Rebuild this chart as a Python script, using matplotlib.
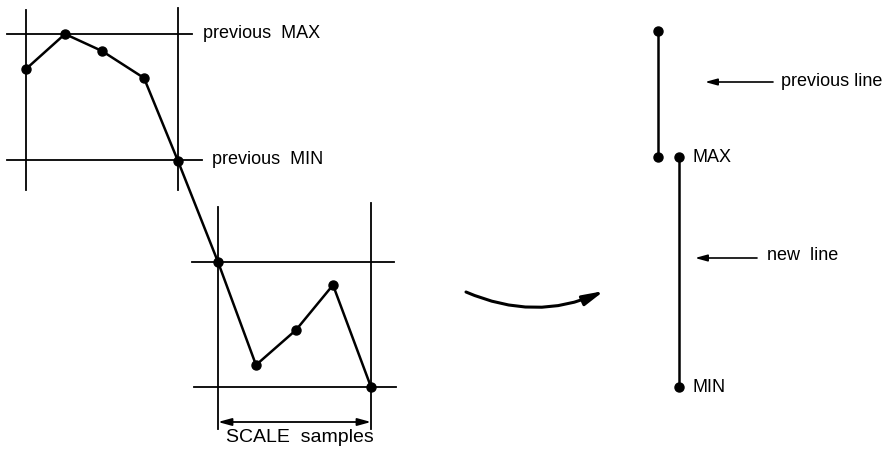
import matplotlib.pyplot as plt
import numpy as np
from matplotlib.patches import FancyArrowPatch

# Sample points of the waveform (picture pixel coords, y grows downward)
sample_x = [26, 65, 102, 144, 178, 218, 256, 296, 333, 371]
sample_y = [69, 34, 51, 78, 161, 262, 365, 330, 285, 387]

# Box lines around the two groups of samples
vlines_x = [26, 178, 218, 371]
vlines_y0 = [10, 8, 207, 203]
vlines_y1 = [190, 190, 429, 429]
hlines_y = [34, 160, 262, 387]
hlines_x0 = [7, 7, 192, 194]
hlines_x1 = [192, 202, 394, 396]

# Resulting vertical lines (previous and new)
prev_x = 658
prev_y = [31, 157]
new_x = 679
new_y = [157, 387]

plt.rcParams['font.family'] = ['Liberation Sans', 'DejaVu Sans']

fig = plt.figure(figsize=(8.86, 4.49), dpi=100)
ax = fig.add_axes([0, 0, 1, 1])
ax.set_xlim(0, 886)
ax.set_ylim(449, 0)
ax.axis('off')

lw_box = 1.3
for x, y0, y1 in zip(vlines_x, vlines_y0, vlines_y1):
    ax.plot([x, x], [y0, y1], color='black', lw=lw_box)
for y, x0, x1 in zip(hlines_y, hlines_x0, hlines_x1):
    ax.plot([x0, x1], [y, y], color='black', lw=lw_box)

# waveform
ax.plot(sample_x, sample_y, color='black', lw=1.8, marker='o', markersize=6.5)

fs = 13
# width arrow under second box
ax.annotate('', xy=(218, 422), xytext=(371, 422),
            arrowprops=dict(arrowstyle='<|-|>,head_length=0.8,head_width=0.22',
                            color='black', lw=1.3,
                            mutation_scale=10, shrinkA=0, shrinkB=0))
ax.text(300, 437, 'SCALE  samples', fontsize=fs + 1, ha='center', va='center')

ax.text(203, 34, 'previous  MAX', fontsize=fs, ha='left', va='center')
ax.text(212, 160, 'previous  MIN', fontsize=fs, ha='left', va='center')

# curved arrow
arc = FancyArrowPatch((466, 292), (604, 291), connectionstyle='arc3,rad=0.22',
                      arrowstyle='-|>,head_length=0.9,head_width=0.22',
                      mutation_scale=14, color='black', lw=2.2,
                      shrinkA=0, shrinkB=0)
ax.add_patch(arc)

# previous / new lines
ax.plot([prev_x, prev_x], prev_y, color='black', lw=1.8, marker='o', markersize=6.5)
ax.plot([new_x, new_x], new_y, color='black', lw=1.8, marker='o', markersize=6.5)
ax.text(693, 158, 'MAX', fontsize=fs, ha='left', va='center')
ax.text(693, 387, 'MIN', fontsize=fs, ha='left', va='center')

ax.annotate('', xy=(705, 82), xytext=(773, 82),
            arrowprops=dict(arrowstyle='-|>,head_length=0.8,head_width=0.22',
                            color='black', lw=1.2,
                            mutation_scale=9, shrinkA=0, shrinkB=0))
ax.text(781, 82, 'previous line', fontsize=fs, ha='left', va='center')
ax.annotate('', xy=(695, 258), xytext=(757, 258),
            arrowprops=dict(arrowstyle='-|>,head_length=0.8,head_width=0.22',
                            color='black', lw=1.2,
                            mutation_scale=9, shrinkA=0, shrinkB=0))
ax.text(767, 256, 'new  line', fontsize=fs, ha='left', va='center')

fig.savefig('out.png', dpi=100)
